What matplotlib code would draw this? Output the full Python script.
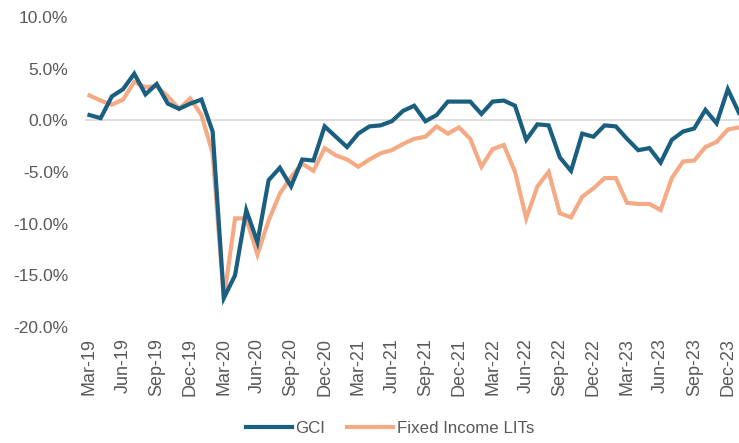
import matplotlib
matplotlib.use("Agg")
import matplotlib.pyplot as plt
import numpy as np

# monthly, Mar-19 .. Jan-24 (values in %)
months = ['Mar', 'Apr', 'May', 'Jun', 'Jul', 'Aug', 'Sep', 'Oct', 'Nov', 'Dec', 'Jan', 'Feb']
gci = [0.5, 0.2, 2.3, 3.0, 4.5, 2.5, 3.5, 1.6, 1.1, 1.6, 2.0, -1.1,
       -17.2, -15.0, -8.7, -11.8, -5.8, -4.6, -6.4, -3.8, -3.9, -0.6, -1.6, -2.6,
       -1.3, -0.6, -0.5, -0.1, 0.9, 1.4, -0.1, 0.5, 1.8, 1.8, 1.8, 0.6,
       1.8, 1.9, 1.4, -1.9, -0.4, -0.5, -3.6, -4.9, -1.3, -1.6, -0.5, -0.6,
       -1.8, -2.9, -2.7, -4.1, -1.9, -1.1, -0.8, 1.0, -0.3, 3.0, 0.7]
fixed_income = [2.4, 1.9, 1.5, 2.0, 3.7, 3.2, 3.3, 2.3, 1.1, 2.1, 0.5, -3.2,
                -17.3, -9.5, -9.5, -13.0, -9.7, -7.1, -5.5, -4.2, -4.9, -2.7, -3.4, -3.8,
                -4.5, -3.8, -3.2, -2.9, -2.3, -1.8, -1.6, -0.6, -1.3, -0.7, -1.8, -4.5,
                -2.8, -2.4, -5.0, -9.5, -6.4, -5.0, -9.0, -9.4, -7.4, -6.6, -5.6, -5.6,
                -8.0, -8.1, -8.1, -8.7, -5.6, -4.0, -3.9, -2.6, -2.1, -0.9, -0.7]

labels = []
for i in range(len(gci)):
    yr = 19 + (2 + i) // 12
    labels.append(months[i % 12] + '-' + str(yr))

x = np.arange(len(gci))
grey = '#595959'

fig = plt.figure(figsize=(7.39, 4.43), dpi=100)
ax = fig.add_axes([0.115, 0.262, 0.885, 0.7])

ax.axhline(0, color='#d9d9d9', lw=1.2, zorder=1)
ax.plot(x, gci, color='#1a5f80', lw=3, label='GCI', zorder=3, solid_joinstyle='miter')
ax.plot(x, fixed_income, color='#f4aa84', lw=3, label='Fixed Income LITs', zorder=2,
        solid_joinstyle='miter')

ax.set_ylim(-20, 10)
ax.set_xlim(-0.4, len(gci) - 1)
yt = np.arange(-20, 11, 5)
ax.set_yticks(yt)
ax.set_yticklabels(['%.1f%%' % v for v in yt], fontsize=12.5, color=grey,
                   family='Liberation Sans')
ax.set_xticks(x[::3])
ax.set_xticklabels(labels[::3], rotation=90, fontsize=13, color=grey,
                   family='Liberation Sans')
ax.tick_params(axis='x', length=0, pad=8)
ax.tick_params(axis='y', length=0, pad=12)
for s in ax.spines.values():
    s.set_visible(False)

leg = fig.legend(loc='center', bbox_to_anchor=(0.528, 0.032), ncol=2, frameon=False,
                 handlelength=2.7, handletextpad=0.2, columnspacing=1.3,
                 prop={'family': 'Liberation Sans', 'size': 12.2})
for t in leg.get_texts():
    t.set_color(grey)

fig.savefig('out.png', dpi=100)
